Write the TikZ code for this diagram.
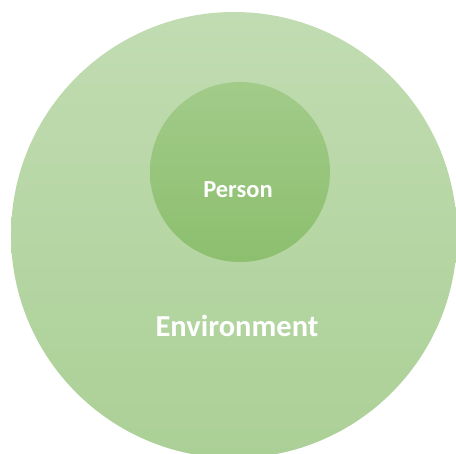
\documentclass[tikz,border=0pt]{standalone}
\usepackage{fontspec}
\setmainfont{Carlito}
\begin{document}
\begin{tikzpicture}[x=1pt,y=-1pt,
  envcircle/.style={top color=envTop,bottom color=envBot,draw=none},
  personcircle/.style={top color=perTop,bottom color=perBot,draw=none},
  lbl/.style={text=white,font=\bfseries}]
\definecolor{envTop}{HTML}{C1DCB2}
\definecolor{envBot}{HTML}{ABD096}
\definecolor{perTop}{HTML}{A2CB8A}
\definecolor{perBot}{HTML}{8CBF6E}
\useasboundingbox (0,0) rectangle (456,454);
\clip (0,0) rectangle (456,454);
\node[envcircle,circle,minimum size=446pt,inner sep=0pt] (env) at (234,235) {};
\node[personcircle,circle,minimum size=180pt,inner sep=0pt] (person) at (240,172) {};
\node[lbl,font=\bfseries\fontsize{24.5}{28}\selectfont] (ptext) at (238,190) {Person};
\node[lbl,font=\bfseries\fontsize{30.5}{36}\selectfont] (etext) at (237,326) {Environment};
\end{tikzpicture}
\end{document}
